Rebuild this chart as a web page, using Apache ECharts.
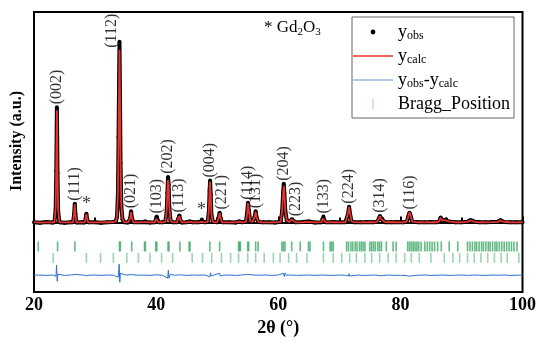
<!DOCTYPE html>
<html>
<head>
<meta charset="utf-8">
<script src="https://cdn.jsdelivr.net/npm/echarts@6/dist/echarts.min.js"></script>
<style>html,body{margin:0;padding:0;background:#fff}#c{width:539px;height:342px}</style>
</head>
<body>
<div id="c"></div>
<script>
// ---------- data ----------
const twoTheta = [
  20.0,21.0,22.0,23.0,
  23.35,23.55,23.65,23.75,23.85,23.95,24.15,
  25.0,26.0,
  26.4,26.58,26.68,26.78,26.95,
  27.8,
  28.3,28.48,28.58,28.68,28.85,
  30.0,31.0,32.0,33.0,
  33.4,33.6,33.75,33.85,33.93,34.0,34.08,34.17,34.3,34.5,34.8,
  35.4,35.75,35.9,36.02,36.3,
  37.0,38.0,38.2,38.4,39.0,
  39.8,40.0,40.1,40.2,40.45,
  41.0,41.5,41.72,41.85,41.95,42.05,42.15,42.35,42.7,
  43.4,43.65,43.8,43.92,44.2,
  45.0,45.5,46.0,47.0,
  47.35,47.5,47.65,48.0,
  48.45,48.65,48.76,48.84,48.94,49.05,49.3,
  50.0,50.25,50.4,50.55,50.8,
  52.0,53.0,53.6,54.0,
  54.7,54.92,55.05,55.18,55.4,
  55.8,56.15,56.3,56.45,56.75,
  57.5,58.5,59.5,
  60.4,60.65,60.8,60.9,61.0,61.15,61.4,61.8,
  62.1,62.25,62.4,62.8,
  64.0,65.0,66.0,
  67.1,67.28,67.4,67.52,67.8,
  69.0,70.0,71.0,
  71.25,71.45,71.6,71.75,72.0,72.4,
  73.5,74.5,75.5,
  76.2,76.5,76.65,76.8,77.0,77.15,77.5,
  78.5,79.5,80.5,
  81.05,81.3,81.5,81.7,81.95,
  83.0,84.0,85.0,86.0,
  86.35,86.6,86.85,87.3,87.5,87.7,88.0,
  89.0,90.0,91.0,91.3,91.5,91.8,92.1,
  93.0,94.0,95.0,96.0,96.25,96.4,96.6,96.9,
  98.0,99.0,100.0
];
const yObs = [
  20,-10,30,0,
  10,700,2600,5800,2500,600,20,
  -10,20,
  10,450,950,420,0,
  20,
  0,250,450,220,10,
  20,-10,20,30,
  60,300,1500,4300,7000,9100,6400,3000,800,150,20,
  0,200,565,240,10,
  20,30,70,20,0,
  20,180,300,160,10,
  20,40,500,1500,2300,1900,800,100,20,
  10,200,350,180,0,
  20,60,10,20,
  60,150,50,20,
  30,600,1600,2115,1400,400,40,
  20,250,500,220,10,
  20,0,60,20,
  40,500,1000,600,80,
  40,300,565,250,30,
  10,20,0,
  40,600,1500,1950,1500,600,100,30,
  100,165,80,10,
  30,50,0,
  20,200,300,180,10,
  30,10,20,
  50,450,800,450,60,20,
  10,30,20,
  40,200,335,200,200,100,20,
  20,30,10,
  40,300,500,300,40,
  20,10,30,20,
  60,250,100,130,165,70,20,
  10,20,40,100,115,100,40,
  20,10,30,40,90,115,80,30,
  20,10,20
];
const yCalc = [
  20,0,10,10,
  15,750,2900,5650,2600,650,20,
  10,10,
  10,470,920,430,10,
  10,
  10,260,440,230,10,
  10,10,15,20,
  60,320,1550,4400,6600,8700,6500,3200,850,150,20,
  10,220,540,250,10,
  10,20,60,20,10,
  15,190,290,170,10,
  15,40,550,1600,2150,1950,850,100,20,
  10,210,330,190,10,
  10,50,10,10,
  40,110,40,15,
  30,650,1650,2050,1450,420,40,
  15,260,470,230,10,
  10,10,50,15,
  40,480,1000,620,80,
  40,300,550,260,30,
  10,10,10,
  40,620,1450,1850,1550,580,100,30,
  90,160,80,10,
  15,30,10,
  20,200,290,180,10,
  15,10,15,
  50,480,780,470,60,20,
  10,20,15,
  40,210,330,200,190,100,20,
  15,20,10,
  50,320,520,320,50,
  15,10,20,15,
  60,240,100,130,160,70,20,
  10,15,35,100,110,100,40,
  15,10,20,35,90,110,80,30,
  15,10,15
];
// obs - calc difference curve [2θ, value]
const diffCurve = [
  [20,0],[21,10],[22,-10],[23,10],[23.6,-50],[23.7,500],[23.8,-300],[23.9,50],[24.2,0],[25,-10],[26,10],
  [26.7,40],[26.8,-40],[27,0],[28,10],[28.6,-30],[29,0],[30,10],[31,-10],[32,10],[33,0],
  [33.8,-100],[33.95,550],[34.05,-350],[34.15,100],[34.4,0],[35,10],[36,30],[36.1,-20],[37,0],[38,10],
  [39,-10],[40,20],[41,0],[41.9,-150],[42.0,250],[42.1,-150],[42.3,40],[43,0],[44,20],[45,-10],[46,10],
  [47,0],[48,10],[48.8,-80],[48.9,120],[49.0,-40],[49.5,10],[50.4,100],[50.5,-40],[51,0],[52,10],[53,-10],
  [54,10],[55,40],[55.1,-60],[56,10],[57,0],[58,10],[59,-10],[60,10],[60.8,100],[60.9,200],[61.0,-60],
  [61.1,120],[61.3,0],[62,10],[63,-10],[64,0],[65,10],[66,-10],[67,10],[68,0],[69,-10],[70,10],[71,0],
  [71.5,-40],[71.6,80],[71.7,-40],[72,0],[73,10],[74,-10],[75,0],[76,10],[76.7,-30],[77,0],[78,10],
  [79,-10],[80,0],[81,-20],[81.5,-50],[82,-20],[83,0],[84,10],[85,-10],[86,0],[87,10],[88,-10],[89,0],
  [90,10],[91,-10],[92,10],[93,0],[94,-10],[95,10],[96,0],[97,10],[98,-10],[99,0],[100,10]
];
// Bragg reflection positions (2θ)
const braggPhase1 = [
  20.7,23.86,26.7,34.0,34.15,36.0,38.1,38.25,39.95,40.1,41.95,42.1,43.9,45.4,45.55,48.8,50.4,
  53.5,53.65,53.8,55.0,55.15,56.3,56.7,60.6,60.85,61.1,62.2,63.6,64.95,65.2,67.4,68.5,68.75,69.0,
  71.2,71.5,71.9,72.2,72.6,72.9,73.3,73.6,73.9,74.2,75.0,75.3,75.6,75.9,76.3,76.6,76.9,77.7,78.8,79.3,
  81.2,81.5,81.8,82.1,82.4,82.7,83.0,83.4,84.0,84.4,84.8,85.2,85.6,86.1,86.7,88.0,89.4,
  91.0,91.4,91.8,92.2,92.5,92.9,93.3,93.6,94.0,94.4,94.7,95.1,95.5,95.8,96.2,96.6,97.0,97.4,97.8,98.2,98.6,99.1
];
const braggPhase2 = [
  23.15,28.58,30.9,33.0,35.2,37.1,39.0,40.9,42.7,45.9,47.6,49.1,50.7,52.2,53.5,55.0,56.3,57.7,59.2,
  60.3,61.7,63.0,64.7,67.4,69.0,70.4,71.7,72.8,74.2,75.3,76.6,78.0,79.3,80.7,81.8,83.1,85.0,87.2,88.6,
  89.7,91.0,92.1,93.2,94.3,95.4,96.5,97.5,99.4
];
// peak indexing
const hklLabels = ['(002)','(111)','(112)','(021)','(103)','(202)','(113)','(004)','(221)','(114)','(131)','(204)','(223)','(133)','(224)','(314)','(116)'];
const hklTheta  = [23.75,26.68,34.0,35.9,40.1,41.95,43.8,48.84,50.4,55.05,56.3,60.9,62.25,67.4,71.6,76.65,81.5];
const hklPeak   = [5800,950,9100,565,300,2300,350,2115,500,1000,565,1950,165,300,800,335,500];
const impurityTheta = [28.58,47.45];
const impurityPeak  = [450,150];

// ---------- chart ----------
const SERIF = 'Liberation Serif';
const ROW1 = -1200, ROW2 = -1775, DIFF_OFFSET = -2650;
// screen shifts [dx, dy] in px for individual labels
const labelShift = {'(112)':[-8,6],'(221)':[2,-3],'(223)':[4,-3]};
function toLocal(s){ return [-s[1], s[0]]; } // label rotated 90°

const chart = echarts.init(document.getElementById('c'), null, {renderer:'canvas'});
const obsData = twoTheta.map((t,i)=>[t,yObs[i]]);
const calcData = twoTheta.map((t,i)=>[t,yCalc[i]]);
const diffData = diffCurve.map(p=>[p[0],p[1]+DIFF_OFFSET]);

const box = 'M0,0L0,0.01M40,14L40,13.99';
const rich = {
  b:{fontFamily:SERIF,fontSize:18,lineHeight:20,color:'#000'},
  s:{fontFamily:SERIF,fontSize:12,lineHeight:10,verticalAlign:'bottom',color:'#000'}
};

chart.setOption({
  animation:false,
  textStyle:{fontFamily:SERIF},
  title:{
    text:'{a|* Gd}{s|2}{a|O}{s|3}',
    left:259, top:13,
    textStyle:{fontWeight:'normal',rich:{
      a:{fontFamily:SERIF,fontWeight:'normal',fontSize:17,lineHeight:20,color:'#000'},
      s:{fontFamily:SERIF,fontWeight:'normal',fontSize:11,lineHeight:10,verticalAlign:'bottom',color:'#000'}
    }}
  },
  grid:{left:34,right:14,top:12,bottom:48,show:true,borderColor:'#000',borderWidth:2},
  legend:{
    orient:'vertical', left:352, top:17,
    padding:[6,4,5,1], itemGap:5, itemWidth:40, itemHeight:14,
    backgroundColor:'#fff', borderColor:'#666', borderWidth:1,
    selectedMode:false,
    itemStyle:{borderWidth:0},
    textStyle:{fontFamily:SERIF,fontSize:18,color:'#000',rich:rich},
    formatter:function(n){
      if(n==='y_obs') return '{b|y}{s|obs}';
      if(n==='y_calc') return '{b|y}{s|calc}';
      if(n==='y_obs-y_calc') return '{b|y}{s|obs}{b|-y}{s|calc}';
      return '{b|'+n+'}';
    },
    data:[
      {name:'y_obs',icon:'path://'+box+'M17.6,7a2.4,2.4,0,1,0,4.8,0a2.4,2.4,0,1,0,-4.8,0Z',itemStyle:{color:'#000'}},
      {name:'y_calc',icon:'path://'+box+'M0,6.3L40,6.3L40,7.7L0,7.7Z',itemStyle:{color:'#e8322e'}},
      {name:'y_obs-y_calc',icon:'path://'+box+'M0,6.3L40,6.3L40,7.7L0,7.7Z',itemStyle:{color:'#97bbe3'}},
      {name:'Bragg_Position',icon:'path://'+box+'M19.4,2L20.6,2L20.6,12L19.4,12Z',itemStyle:{color:'#8fd0ab'}}
    ]
  },
  xAxis:{
    type:'value', min:20, max:100, interval:20,
    axisLine:{show:true,lineStyle:{color:'#000',width:2}},
    axisTick:{show:true,inside:true,length:6,lineStyle:{color:'#000',width:2}},
    minorTick:{show:true,splitNumber:2,length:5,lineStyle:{color:'#000',width:2}},
    splitLine:{show:false},
    axisLabel:{fontFamily:SERIF,fontWeight:'bold',fontSize:18,color:'#000',margin:4},
    name:'2θ (°)', nameLocation:'middle', nameGap:23,
    nameTextStyle:{fontFamily:SERIF,fontWeight:'bold',fontSize:18,color:'#000'}
  },
  yAxis:{
    type:'value', min:-3500, max:10600,
    axisLine:{show:true,lineStyle:{color:'#000',width:2}},
    axisTick:{show:false}, axisLabel:{show:false}, splitLine:{show:false},
    name:'Intensity (a.u.)', nameLocation:'middle', nameGap:9,
    nameTextStyle:{fontFamily:SERIF,fontWeight:'bold',fontSize:16,color:'#000',padding:[0,0,0,22]}
  },
  series:[
    {name:'y_obs',type:'line',data:obsData,color:'#000',
     lineStyle:{color:'#000',width:4},symbol:'circle',symbolSize:4,showSymbol:true,showAllSymbol:true,
     itemStyle:{color:'#000'},z:2,silent:true},
    {name:'y_calc',type:'line',data:calcData,color:'#e8322e',
     lineStyle:{color:'#e8322e',width:1.8},symbol:'none',z:3,silent:true},
    {name:'y_obs-y_calc',type:'line',data:diffData,color:'#2c6fd3',
     lineStyle:{color:'#2c6fd3',width:1},symbol:'none',z:3,silent:true},
    {name:'Bragg_Position',type:'scatter',data:braggPhase1.map(t=>[t,ROW1]),color:'#3da965',
     symbol:'rect',symbolSize:[1.6,10],itemStyle:{color:'#3da965'},z:3,silent:true},
    {name:'Bragg_Position',type:'scatter',data:braggPhase2.map(t=>[t,ROW2]),color:'#83c9a1',
     symbol:'rect',symbolSize:[1.6,10],itemStyle:{color:'#83c9a1'},z:3,silent:true},
    {name:'hkl',type:'scatter',silent:true,symbolSize:0.1,itemStyle:{color:'rgba(0,0,0,0)'},z:5,
     data:hklLabels.map((h,i)=>({value:[hklTheta[i],hklPeak[i]],name:h,
       label:{offset:toLocal(labelShift[h]||[0,-3])}})),
     label:{show:true,formatter:p=>p.name,rotate:90,position:[0,0],align:'left',verticalAlign:'middle',
       fontFamily:SERIF,fontSize:16,color:'#000'}},
    {name:'impurity',type:'scatter',silent:true,symbolSize:0.1,itemStyle:{color:'rgba(0,0,0,0)'},z:5,
     data:impurityTheta.map((t,i)=>[t,impurityPeak[i]]),
     label:{show:true,formatter:'*',position:'top',distance:0,fontFamily:SERIF,fontSize:18,color:'#000'}}
  ]
});
</script>
</body>
</html>
